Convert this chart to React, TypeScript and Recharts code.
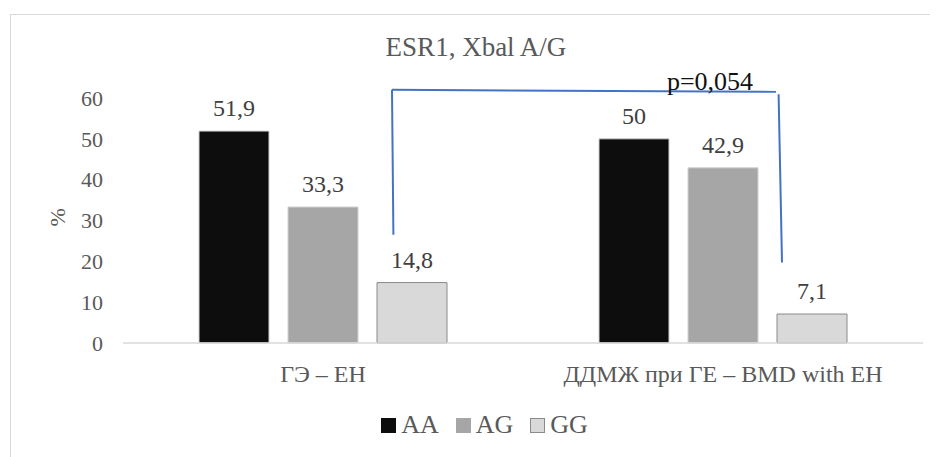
import React from 'react';
import { BarChart, Bar, XAxis, YAxis, Legend, LabelList, ReferenceLine, ReferenceDot, Label } from 'recharts';

const categories = ['ГЭ – ЕН', 'ДДМЖ при ГЕ – BMD with ЕН'];
const seriesAA = [51.9, 50];
const seriesAG = [33.3, 42.9];
const seriesGG = [14.8, 7.1];
const yTicks = [0, 10, 20, 30, 40, 50, 60];
const seriesNames = ['AA', 'AG', 'GG'];
const title = 'ESR1, Xbal A/G';
const pText = 'p=0,054';
// bracket points (x measured in category widths from the left of the axis, y in %)
const bracketLeft = [{ x: 0.6725, y: 62 }, { x: 0.676, y: 26.5 }];
const bracketTop = [{ x: 0.6725, y: 62 }, { x: 1.6325, y: 61.5 }];
const bracketRight = [{ x: 1.639, y: 60.9 }, { x: 1.6475, y: 19.7 }];
const pPos = { x: 1.4675, y: 64.2 };

// each category occupies one unit on the x axis, centred at index + 0.5
const data = categories.map((c, i) => ({ name: c, pos: i + 0.5, AA: seriesAA[i], AG: seriesAG[i], GG: seriesGG[i] }));
const xTicks = data.map((d) => d.pos);

const FONT = 'Liberation Serif, Times New Roman, serif';
const TXT = '#595959';
const colors: Record<string, { fill: string; stroke: string }> = {
  AA: { fill: '#0d0d0d', stroke: '#d0d0d0' },
  AG: { fill: '#a6a6a6', stroke: '#d0d0d0' },
  GG: { fill: '#d9d9d9', stroke: '#8a8a8a' },
};

const fmt = (v: any) => String(v).replace('.', ',');
const catName = (v: any) => categories[Math.floor(Number(v))] ?? '';

const LegendContent = () => (
  <div style={{ display: 'flex', justifyContent: 'center', alignItems: 'center', fontFamily: FONT, fontSize: 26, color: TXT }}>
    {seriesNames.map((n) => (
      <div key={n} style={{ display: 'flex', alignItems: 'center', marginRight: 17 }}>
        <span style={{ display: 'inline-block', width: 13, height: 13, background: colors[n].fill, border: `1px solid ${n === 'GG' ? '#8a8a8a' : colors[n].fill}`, marginRight: 5 }} />
        <span>{n}</span>
      </div>
    ))}
  </div>
);

export default function App() {
  return (
    <div style={{ position: 'relative', width: 930, height: 449, overflow: 'hidden', background: '#fff', fontFamily: FONT }}>
      <div style={{ position: 'absolute', left: 2, top: 6, width: 926, height: 480, border: '1.5px solid #d9d9d9', boxSizing: 'border-box' }} />
      <div style={{ position: 'absolute', left: 0, top: 24, width: 936, textAlign: 'center', fontFamily: FONT, fontSize: 27, color: TXT }}>{title}</div>
      <div style={{ position: 'absolute', left: 0, top: 0 }}>
        <BarChart width={930} height={449} data={data} margin={{ top: 90, right: 15, bottom: 84, left: 35 }} barSize={70} barGap={19} style={{ fontFamily: FONT }}>
          <XAxis dataKey="pos" type="number" domain={[0, 2]} allowDataOverflow ticks={xTicks} tickFormatter={catName} tickLine={false} tickSize={0} tickMargin={22} axisLine={{ stroke: '#d9d9d9', strokeWidth: 1.5 }} tick={{ fill: TXT, fontFamily: FONT, fontSize: 24, style: { fontFamily: FONT } }} height={30} interval={0} />
          <YAxis width={80} domain={[0, 60]} ticks={yTicks} tickLine={false} tickSize={0} tickMargin={20} axisLine={false} tick={{ fill: TXT, fontFamily: FONT, fontSize: 22, style: { fontFamily: FONT } }}>
            <Label value="%" angle={-90} position="insideLeft" offset={14} dy={6} style={{ fill: TXT, fontFamily: FONT, fontSize: 22 }} />
          </YAxis>
          {seriesNames.map((n) => (
            <Bar key={n} dataKey={n} fill={colors[n].fill} stroke={colors[n].stroke} strokeWidth={1} isAnimationActive={false}>
              <LabelList dataKey={n} position="top" offset={15} formatter={fmt} style={{ fill: '#404040', fontFamily: FONT, fontSize: 24 }} />
            </Bar>
          ))}
          <ReferenceLine segment={bracketLeft} stroke="#4472c4" strokeWidth={2} ifOverflow="visible" />
          <ReferenceLine segment={bracketTop} stroke="#4472c4" strokeWidth={2} ifOverflow="visible" />
          <ReferenceLine segment={bracketRight} stroke="#4472c4" strokeWidth={2} ifOverflow="visible" />
          <ReferenceDot x={pPos.x} y={pPos.y} r={0} fill="none" stroke="none" ifOverflow="visible">
            <Label value={pText} position="center" style={{ fill: '#111', fontFamily: FONT, fontSize: 26 }} />
          </ReferenceDot>
          <Legend verticalAlign="middle" align="center" layout="horizontal" content={<LegendContent />} wrapperStyle={{ top: 402, left: 0, width: 970 }} />
        </BarChart>
      </div>
    </div>
  );
}
